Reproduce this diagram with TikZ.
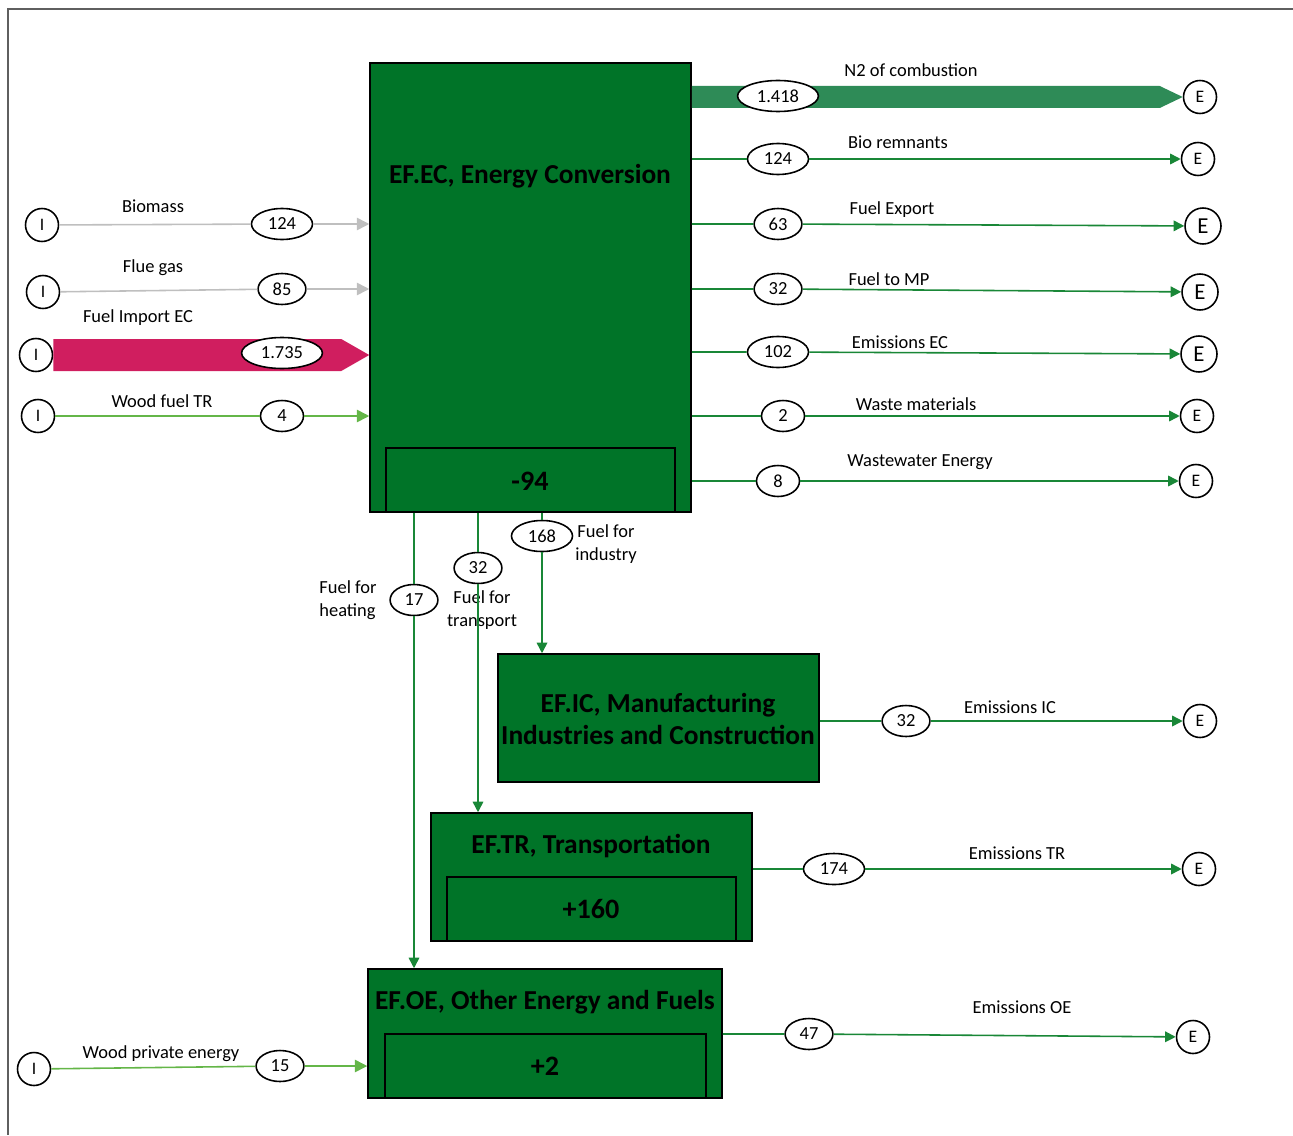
\documentclass[tikz,border=0pt]{standalone}
\usepackage{fontspec}
\setmainfont{Carlito}
\usetikzlibrary{shapes,positioning,arrows.meta,calc}
\definecolor{boxgreen}{RGB}{0,116,40}
\definecolor{flowgreen}{RGB}{25,135,55}
\definecolor{lightgreen}{RGB}{100,182,72}
\definecolor{seagreen}{RGB}{46,139,87}
\definecolor{importred}{RGB}{208,30,95}
\definecolor{framegray}{RGB}{95,95,95}

\begin{document}
\begin{tikzpicture}[x=0.02cm,y=-0.02cm,
  blk/.style={draw=black,fill=boxgreen,line width=0.9pt,inner sep=0pt},
  ttl/.style={font=\fontsize{15.6}{18.2}\selectfont\bfseries,align=center,inner sep=0pt},
  bal/.style={font=\fontsize{16}{18}\selectfont\bfseries,inner sep=0pt},
  num/.style={ellipse,draw,fill=white,line width=0.9pt,inner xsep=4.3pt,inner ysep=1pt,minimum width=0.86cm,minimum height=0.62cm,font=\fontsize{10.5}{12}\selectfont},
  src/.style={circle,draw,fill=white,line width=0.9pt,minimum size=0.66cm,inner sep=0pt,font=\fontsize{10}{12}\selectfont},
  bigE/.style={minimum size=0.72cm,font=\fontsize{13}{15}\selectfont},
  lbl/.style={font=\fontsize{10.5}{13}\selectfont,align=center,inner sep=0pt},
  flw/.style={flowgreen,line width=0.9pt,-{Triangle[length=6pt,width=6pt]}},
  ltflw/.style={lightgreen,line width=0.9pt,-{Triangle[length=7pt,width=7pt]}},
  gyflw/.style={black!25,line width=0.9pt,-{Triangle[length=7pt,width=7pt]}}]
  \useasboundingbox (0,0) rectangle (1293,1135);
  \draw[framegray,line width=0.8pt] (7,9) -- (1293,9) (8,9) -- (8,1135);

  % process boxes
  \node[blk,minimum width=6.42cm,minimum height=8.98cm] (ec) at (530.5,287.5) {};
  \node[blk,minimum width=5.78cm,minimum height=1.28cm] (ecb) at (530.5,480) {};
  \node[blk,minimum width=6.42cm,minimum height=2.56cm] (ic) at (658.5,718) {};
  \node[blk,minimum width=6.42cm,minimum height=2.56cm] (tr) at (591.5,877) {};
  \node[blk,minimum width=5.78cm,minimum height=1.28cm] (trb) at (591.5,909) {};
  \node[blk,minimum width=7.08cm,minimum height=2.58cm] (oe) at (545,1033.5) {};
  \node[blk,minimum width=6.42cm,minimum height=1.28cm] (oeb) at (545.5,1066) {};
  \node[ttl] (ect) at (530,176) {EF.EC, Energy Conversion};
  \node[bal] (ecv) at (530,481) {-94};
  \node[ttl] (ict) at (658,719) {EF.IC, Manufacturing\\Industries and Construction};
  \node[ttl] (trt) at (591,846) {EF.TR, Transportation};
  \node[bal] (trv) at (591,909) {+160};
  \node[ttl] (oet) at (545,1002) {EF.OE, Other Energy and Fuels};
  \node[bal] (oev) at (545,1066) {+2};

  % sources and sinks
  \node[src] (i1) at (42,225) {I};
  \node[src] (i2) at (43,292) {I};
  \node[src] (i3) at (36,355) {I};
  \node[src] (i4) at (38,416) {I};
  \node[src] (i5) at (34,1069) {I};
  \node[src] (e1) at (1200,97) {E};
  \node[src] (e2) at (1198,159) {E};
  \node[src,bigE] (e3) at (1203,226) {E};
  \node[src,bigE] (e4) at (1200,292) {E};
  \node[src,bigE] (e5) at (1199,354) {E};
  \node[src] (e6) at (1197,416) {E};
  \node[src] (e7) at (1196,481) {E};
  \node[src] (e8) at (1200,721) {E};
  \node[src] (e9) at (1199,869) {E};
  \node[src] (e10) at (1193,1037) {E};

  % wide flows
  \fill[importred] ($(i3.east)+(0,-16)$) -- ($(ec.west |- i3)+(-28,-16)$) -- (ec.west |- i3)
    -- ($(ec.west |- i3)+(-28,16)$) -- ($(i3.east)+(0,16)$) -- cycle;
  \fill[seagreen] ($(ec.east |- e1)+(0,-11)$) -- ($(e1.west)+(-23,-11)$) -- (e1.west)
    -- ($(e1.west)+(-23,11)$) -- ($(ec.east |- e1)+(0,11)$) -- cycle;

  % flow values
  \node[num] (n1) at (282,224) {124};
  \node[num] (n2) at (282,289) {85};
  \node[num] (n3) at (282,353) {1.735};
  \node[num] (n4) at (282,416) {4};
  \node[num] (o1) at (778,96) {1.418};
  \node[num] (o2) at (778,159) {124};
  \node[num] (o3) at (778,224) {63};
  \node[num] (o4) at (778,289) {32};
  \node[num] (o5) at (778,352) {102};
  \node[num] (o6) at (783,416) {2};
  \node[num] (o7) at (778,481) {8};
  \node[num] (d1) at (414,600) {17};
  \node[num] (d2) at (478,568) {32};
  \node[num] (d3) at (542,536) {168};
  \node[num] (q1) at (906,721) {32};
  \node[num] (q2) at (834,869) {174};
  \node[num] (q3) at (809,1034) {47};
  \node[num] (q4) at (280,1066) {15};

  % flow names
  \node[lbl] (l1) at (153,206) {Biomass};
  \node[lbl] (l2) at (153,268) {Flue gas};
  \node[lbl] (l3) at (138,318) {Fuel Import EC};
  \node[lbl] (l4) at (162,401) {Wood fuel TR};
  \node[lbl] (l5) at (911,70) {N2 of combustion};
  \node[lbl] (l6) at (898,142) {Bio remnants};
  \node[lbl] (l7) at (892,210) {Fuel Export};
  \node[lbl] (l8) at (889,279) {Fuel to MP};
  \node[lbl] (l9) at (900,342) {Emissions EC};
  \node[lbl] (l10) at (916,404) {Waste materials};
  \node[lbl] (l11) at (920,462) {Wastewater Energy};
  \node[lbl,align=left] (l12) at (348,600) {Fuel for\\heating};
  \node[lbl] (l13) at (482,610) {Fuel for\\transport};
  \node[lbl] (l14) at (606,544) {Fuel for\\industry};
  \node[lbl] (l15) at (1010,707) {Emissions IC};
  \node[lbl] (l16) at (1017,853) {Emissions TR};
  \node[lbl] (l17) at (1022,1007) {Emissions OE};
  \node[lbl] (l18) at (161,1054) {Wood private energy};

  \draw[gyflw] (i1) -- (n1) -- (n1 -| ec.west);
  \draw[gyflw] (i2) -- (n2) -- (n2 -| ec.west);
  \draw[ltflw] (i4) -- (n4) -- (n4 -| ec.west);
  \draw[ltflw] (i5) -- (q4) -- (q4 -| oe.west);
  \draw[flw] (ec.east |- o2) -- (o2) -- (e2);
  \draw[flw] (ec.east |- o3) -- (o3) -- (e3);
  \draw[flw] (ec.east |- o4) -- (o4) -- (e4);
  \draw[flw] (ec.east |- o5) -- (o5) -- (e5);
  \draw[flw] (ec.east |- o6) -- (o6) -- (e6);
  \draw[flw] (ec.east |- o7) -- (o7) -- (e7);
  \draw[flw] (d1 |- ec.south) -- (d1) -- (d1 |- oe.north);
  \draw[flw] (d2 |- ec.south) -- (d2) -- (d2 |- tr.north);
  \draw[flw] (d3 |- ec.south) -- (d3) -- (d3 |- ic.north);
  \draw[flw] (ic.east |- q1) -- (q1) -- (e8);
  \draw[flw] (tr.east |- q2) -- (q2) -- (e9);
  \draw[flw] (oe.east |- q3) -- (q3) -- (e10);
\end{tikzpicture}
\end{document}
